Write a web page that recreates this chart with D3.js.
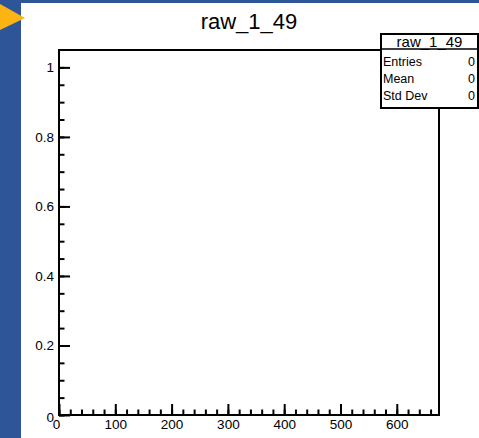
<!DOCTYPE html>
<html>
<head>
<meta charset="utf-8">
<script src="https://cdn.jsdelivr.net/npm/d3@7"></script>
<style>
  body { margin: 0; padding: 0; background: #fff; }
  svg text { font-family: "Liberation Sans", Arial, Helvetica, sans-serif; fill: #000; }
</style>
</head>
<body>
<div id="chart"></div>
<script>
// histogram "raw_1_49" is empty
const histName = "raw_1_49";
const xRange = [0, 675];
const yRange = [0, 1.05];
const xMajorTicks = [0, 100, 200, 300, 400, 500, 600];
const xMinorTicks = d3.range(0, 675, 20);
const yMajorTicks = [0, 0.2, 0.4, 0.6, 0.8, 1];
const yMinorTicks = d3.range(0, 21).map(i => i * 0.05);
const statLabels = ["Entries", "Mean", "Std Dev"];
const statValues = [0, 0, 0];

const W = 479, H = 438;
const margin = {top: 50, right: 40, bottom: 23, left: 59};
const width = W - margin.left - margin.right;   // 380
const height = H - margin.top - margin.bottom;  // 365

const svg = d3.select("#chart").append("svg")
    .attr("width", W)
    .attr("height", H);

// canvas frame: blue border + orange marker
svg.append("rect").attr("width", W).attr("height", H).attr("fill", "#2e5597");
svg.append("rect").attr("x", 21).attr("y", 3).attr("width", W - 21).attr("height", H - 3).attr("fill", "#fff");
svg.append("polygon").attr("points", "0,4 25,18 0,30").attr("fill", "#fbb413");

const x = d3.scaleLinear().domain(xRange).range([0, width]);
const y = d3.scaleLinear().domain(yRange).range([height, 0]);

const g = svg.append("g").attr("transform", `translate(${margin.left},${margin.top})`);

// minor ticks
g.append("g")
    .attr("transform", `translate(0,${height})`)
    .call(d3.axisBottom(x).tickValues(xMinorTicks).tickSize(-5.5).tickFormat(""))
    .call(a => a.select(".domain").remove());
g.append("g")
    .call(d3.axisLeft(y).tickValues(yMinorTicks).tickSize(-5.5).tickFormat(""))
    .call(a => a.select(".domain").remove());

// major ticks + labels
const xAxis = g.append("g")
    .attr("transform", `translate(0,${height})`)
    .call(d3.axisBottom(x).tickValues(xMajorTicks).tickSize(-11).tickPadding(4).tickFormat(d3.format("d")))
    .call(a => a.select(".domain").remove());
const yAxis = g.append("g")
    .call(d3.axisLeft(y).tickValues(yMajorTicks).tickSize(-11).tickPadding(5).tickFormat(d => d3.format("~g")(d)))
    .call(a => a.select(".domain").remove());

g.selectAll(".tick line").attr("stroke", "#000").attr("stroke-width", 2);
g.selectAll(".tick text").attr("font-size", 13.5).attr("fill", "#000");
// origin label of x axis sits a bit to the left, next to the y "0"
xAxis.selectAll(".tick text").filter(d => d === 0).attr("dx", -3);
yAxis.selectAll(".tick text").filter(d => d === 0).attr("dy", "0.5em");

// frame
g.append("rect")
    .attr("width", width).attr("height", height)
    .attr("fill", "none").attr("stroke", "#000").attr("stroke-width", 2);

// title
svg.append("text")
    .attr("x", 249).attr("y", 29)
    .attr("text-anchor", "middle")
    .attr("font-size", 22)
    .text(histName);

// stats box
const box = {x: 381, y: 34, w: 97, h: 74, titleH: 15};
const stats = svg.append("g");
stats.append("rect")
    .attr("x", box.x).attr("y", box.y).attr("width", box.w).attr("height", box.h)
    .attr("fill", "#fff").attr("stroke", "#000").attr("stroke-width", 2);
stats.append("line")
    .attr("x1", box.x).attr("x2", box.x + box.w)
    .attr("y1", box.y + box.titleH).attr("y2", box.y + box.titleH)
    .attr("stroke", "#000").attr("stroke-width", 1.5);
stats.append("text")
    .attr("x", box.x + box.w / 2).attr("y", box.y + 12.5)
    .attr("text-anchor", "middle").attr("font-size", 15)
    .text(histName);

const rowY = d3.scalePoint().domain(statLabels).range([box.y + 32, box.y + 66]);
statLabels.forEach((lab, i) => {
    stats.append("text")
        .attr("x", box.x + 2).attr("y", rowY(lab))
        .attr("font-size", 12.5).text(lab);
    stats.append("text")
        .attr("x", box.x + box.w - 3).attr("y", rowY(lab))
        .attr("text-anchor", "end").attr("font-size", 12.5).text(statValues[i]);
});
</script>
</body>
</html>
